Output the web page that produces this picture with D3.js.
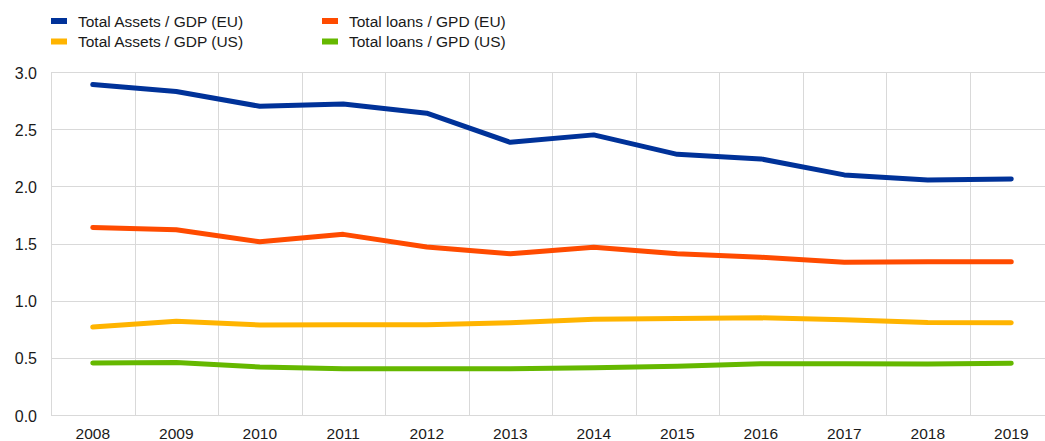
<!DOCTYPE html>
<html>
<head>
<meta charset="utf-8">
<script src="https://cdn.jsdelivr.net/npm/d3@7"></script>
<style>
  html, body { margin: 0; padding: 0; background: #fff; }
  svg { display: block; font-family: "Liberation Sans", Arial, sans-serif; }
</style>
</head>
<body>
<svg id="chart" width="1045" height="441"></svg>
<script>
// Categories and series
const years = ["2008","2009","2010","2011","2012","2013","2014","2015","2016","2017","2018","2019"];
const assetsEU = [2.89, 2.83, 2.70, 2.72, 2.64, 2.385, 2.45, 2.28, 2.24, 2.10, 2.055, 2.065];
const loansEU  = [1.64, 1.62, 1.515, 1.58, 1.47, 1.41, 1.467, 1.41, 1.38, 1.335, 1.34, 1.34];
const assetsUS = [0.77, 0.82, 0.787, 0.79, 0.79, 0.807, 0.837, 0.845, 0.85, 0.834, 0.81, 0.807];
const loansUS  = [0.455, 0.46, 0.42, 0.405, 0.405, 0.405, 0.414, 0.426, 0.449, 0.449, 0.446, 0.452];
const yTicks = [0, 0.5, 1.0, 1.5, 2.0, 2.5, 3.0];

const series = [
  { name: "Total Assets / GDP (EU)", values: assetsEU, color: "#003299" },
  { name: "Total loans / GPD (EU)",  values: loansEU,  color: "#ff4b00" },
  { name: "Total Assets / GDP (US)", values: assetsUS, color: "#ffb400" },
  { name: "Total loans / GPD (US)",  values: loansUS,  color: "#65b800" }
];

const svg = d3.select("#chart");
const plotLeft = 51, plotRight = 1053, plotTop = 72, plotBottom = 415;
const grid = "#d9d9d9";
const textColor = "#1a1a1a";

const x = d3.scaleBand().domain(years).range([plotLeft, plotRight]);
const y = d3.scaleLinear().domain([0, 3]).range([plotBottom, plotTop]);

// horizontal gridlines
svg.append("g").selectAll("line").data(yTicks).join("line")
  .attr("x1", plotLeft).attr("x2", plotRight)
  .attr("y1", d => Math.round(y(d)) + 0.5).attr("y2", d => Math.round(y(d)) + 0.5)
  .attr("stroke", grid).attr("stroke-width", 1);

// vertical gridlines at band boundaries
svg.append("g").selectAll("line").data(years).join("line")
  .attr("x1", d => Math.round(x(d)) + 0.5).attr("x2", d => Math.round(x(d)) + 0.5)
  .attr("y1", plotTop).attr("y2", plotBottom)
  .attr("stroke", grid).attr("stroke-width", 1);

// y axis labels
const yAxis = svg.append("g").attr("transform", `translate(${plotLeft - 14},1)`)
  .call(d3.axisLeft(y).tickValues(yTicks).tickFormat(d3.format(".1f")).tickSize(0).tickPadding(0));
yAxis.select(".domain").remove();
yAxis.selectAll("text").attr("font-size", 16).attr("fill", textColor)
  .attr("font-family", "Liberation Sans, Arial, sans-serif");

// x axis labels
const xAxis = svg.append("g").attr("transform", `translate(0,${plotBottom + 13})`)
  .call(d3.axisBottom(x).tickSize(0).tickPadding(0));
xAxis.select(".domain").remove();
xAxis.selectAll("text").attr("font-size", 15.5).attr("fill", textColor)
  .attr("font-family", "Liberation Sans, Arial, sans-serif");

// series lines
const line = d3.line()
  .x((d, i) => x(years[i]) + x.bandwidth() / 2)
  .y(d => y(d));

svg.append("g").selectAll("path").data(series).join("path")
  .attr("d", d => line(d.values))
  .attr("fill", "none")
  .attr("stroke", d => d.color)
  .attr("stroke-width", 5)
  .attr("stroke-linecap", "round")
  .attr("stroke-linejoin", "round");

// legend
const legendPos = [[51, 21], [322, 21], [51, 41.5], [322, 41.5]];
const lg = svg.append("g").selectAll("g").data(series).join("g")
  .attr("transform", (d, i) => `translate(${legendPos[i][0]},${legendPos[i][1]})`);
lg.append("rect").attr("x", 0).attr("y", -3).attr("width", 16).attr("height", 6)
  .attr("fill", d => d.color);
lg.append("text").attr("x", 27).attr("y", 5.5)
  .attr("font-size", 15.5).attr("fill", textColor)
  .text(d => d.name);
</script>
</body>
</html>
